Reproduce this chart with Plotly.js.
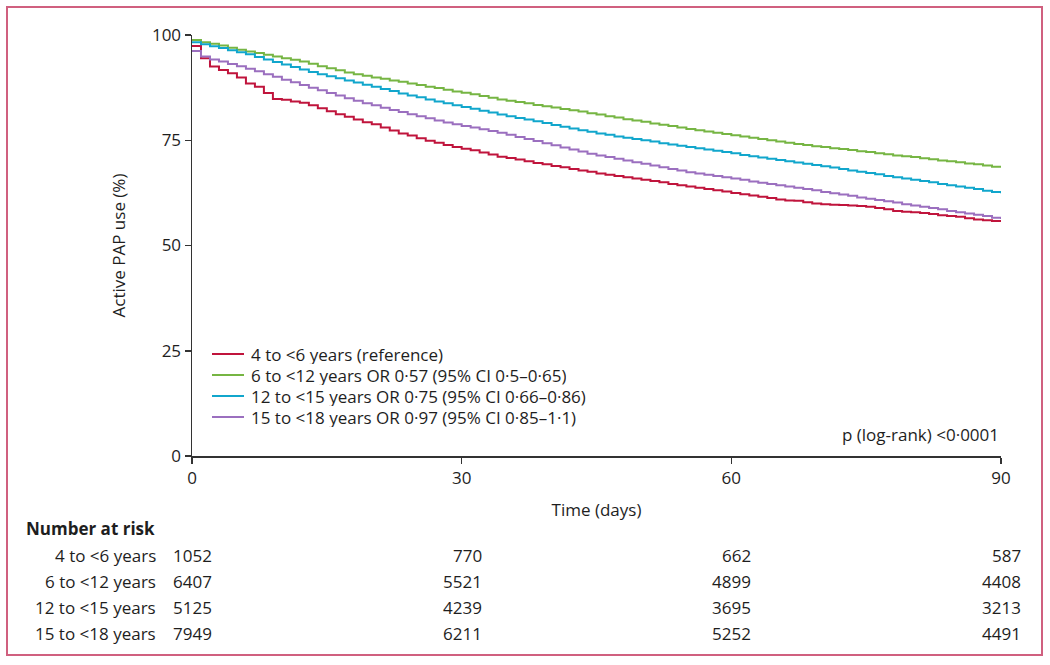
<!DOCTYPE html>
<html>
<head>
<meta charset="utf-8">
<script src="https://cdn.plot.ly/plotly-3.0.1.min.js"></script>
<style>html,body{margin:0;padding:0;background:#fff;}#chart{width:1050px;height:665px;}</style>
</head>
<body>
<div id="chart"></div>
<script>
var days = [];
for (var i = 0; i <= 90; i++) days.push(i);

var seriesNames = [
  "4 to <6 years (reference)",
  "6 to <12 years OR 0·57 (95% CI 0·5–0·65)",
  "12 to <15 years OR 0·75 (95% CI 0·66–0·86)",
  "15 to <18 years OR 0·97 (95% CI 0·85–1·1)"
];
var seriesColors = ["#c0143c", "#76b543", "#11a6cc", "#9b6fbf"];

var red = [97.4,94.5,92.5,91.7,90.9,89.9,88.5,87.7,86.2,84.8,84.6,84.2,83.9,83.3,82.6,81.9,81.2,80.6,79.9,79.3,78.8,78.0,77.3,76.6,76.1,75.5,74.9,74.4,73.9,73.4,73.0,72.6,72.1,71.6,71.1,70.8,70.4,70.0,69.6,69.3,68.9,68.6,68.2,67.8,67.5,67.1,66.8,66.5,66.2,65.9,65.6,65.3,65.0,64.6,64.3,64.0,63.7,63.4,63.1,62.8,62.5,62.2,61.9,61.6,61.3,60.9,60.7,60.6,60.3,60.0,59.8,59.7,59.6,59.5,59.4,59.2,58.9,58.6,58.2,58.0,57.9,57.7,57.5,57.2,57.0,56.8,56.5,56.2,56.0,55.8,55.6];
var green = [98.8,98.3,97.9,97.5,97.0,96.5,96.1,95.7,95.3,94.9,94.5,94.1,93.7,93.2,92.6,92.1,91.6,91.1,90.7,90.3,89.9,89.6,89.2,88.9,88.5,88.1,87.7,87.4,87.0,86.6,86.3,85.9,85.5,85.1,84.7,84.4,84.1,83.8,83.4,83.1,82.8,82.4,82.1,81.8,81.4,81.1,80.7,80.4,80.0,79.7,79.4,79.0,78.7,78.4,78.0,77.7,77.4,77.1,76.8,76.5,76.2,75.9,75.6,75.3,75.0,74.7,74.4,74.1,73.9,73.6,73.4,73.1,72.9,72.7,72.4,72.2,71.9,71.7,71.4,71.2,71.0,70.7,70.5,70.2,70.0,69.8,69.5,69.3,69.0,68.7,68.5];
var blue = [98.3,97.8,97.3,96.9,96.4,95.9,95.4,94.8,94.2,93.6,93.0,92.4,91.8,91.2,90.7,90.2,89.7,89.2,88.7,88.2,87.7,87.2,86.7,86.1,85.6,85.2,84.7,84.2,83.8,83.3,82.9,82.5,82.0,81.6,81.1,80.7,80.3,79.9,79.5,79.1,78.6,78.2,77.8,77.4,77.0,76.6,76.3,75.9,75.6,75.3,75.0,74.7,74.3,74.0,73.7,73.4,73.1,72.8,72.5,72.2,71.9,71.5,71.2,70.9,70.6,70.3,70.0,69.7,69.4,69.1,68.8,68.5,68.2,67.8,67.5,67.2,66.9,66.5,66.2,65.9,65.6,65.3,65.0,64.6,64.3,64.0,63.7,63.4,63.0,62.7,62.4];
var purple = [96.2,94.9,94.2,93.7,93.1,92.6,92.0,91.4,90.7,90.1,89.4,88.8,88.1,87.5,86.9,86.2,85.6,85.0,84.4,83.8,83.3,82.7,82.2,81.7,81.2,80.7,80.2,79.7,79.2,78.8,78.4,78.0,77.6,77.2,76.8,76.3,75.8,75.3,74.8,74.3,73.8,73.3,72.8,72.3,71.8,71.4,71.0,70.6,70.2,69.8,69.4,69.0,68.6,68.2,67.8,67.4,67.1,66.8,66.5,66.2,65.9,65.6,65.2,64.9,64.6,64.3,64.0,63.7,63.4,63.1,62.7,62.4,62.1,61.8,61.4,61.1,60.8,60.5,60.2,59.8,59.5,59.2,58.9,58.6,58.2,57.9,57.6,57.3,57.0,56.6,56.3];

var riskTimes = [0, 30, 60, 90];
var riskLabels = ["4 to <6 years", "6 to <12 years", "12 to <15 years", "15 to <18 years"];
var risk4to6 = [1052, 770, 662, 587];
var risk6to12 = [6407, 5521, 4899, 4408];
var risk12to15 = [5125, 4239, 3695, 3213];
var risk15to18 = [7949, 6211, 5252, 4491];

var xTicks = [0, 30, 60, 90];
var yTicks = [0, 25, 50, 75, 100];

var FONT = "'Open Sans', Lato, sans-serif";
var TXT = "#1e1e1e";
var FS = 17;

// pixel helpers for paper coordinates (plot area 192..1001 x, 35..456 y)
function px(x) { return (x - 192) / 809; }
function py(y) { return (456 - y) / 421; }

var allSeries = [red, green, blue, purple];
var traces = allSeries.map(function (ys, k) {
  return {
    x: days, y: ys, type: "scatter", mode: "lines",
    line: {shape: "hv", color: seriesColors[k], width: 2},
    name: seriesNames[k], hoverinfo: "skip", showlegend: false
  };
});

var annotations = [];
var shapes = [];

// legend (drawn as annotation text + line samples)
var legendY = [354, 375, 396, 417];
seriesNames.forEach(function (nm, k) {
  shapes.push({
    type: "line", xref: "paper", yref: "paper",
    x0: px(212), x1: px(244), y0: py(legendY[k]), y1: py(legendY[k]),
    line: {color: seriesColors[k], width: 2}
  });
  annotations.push({
    xref: "paper", yref: "paper", x: px(250), y: py(legendY[k]), xanchor: "left", yanchor: "middle",
    text: nm.replace(/</g, "&lt;"), showarrow: false, height: 20, borderpad: 0, valign: "middle",
    font: {family: FONT, size: FS, color: TXT}
  });
});

annotations.push({
  xref: "x", yref: "paper", x: 90, y: py(434), xanchor: "right", yanchor: "middle",
  text: "p (log-rank) &lt;0·0001", showarrow: false, font: {family: FONT, size: FS, color: TXT}
});
annotations.push({
  xref: "paper", yref: "paper", x: px(24), y: py(528), xanchor: "left", yanchor: "middle",
  text: "<b>Number at risk</b>", showarrow: false, font: {family: FONT, size: FS, color: TXT}
});
var riskRows = [risk4to6, risk6to12, risk12to15, risk15to18];
var rowY = [555, 581, 607, 633];
riskRows.forEach(function (row, r) {
  annotations.push({
    xref: "paper", yref: "paper", x: px(158), y: py(rowY[r]), xanchor: "right", yanchor: "middle",
    text: riskLabels[r].replace(/</g, "&lt;"), showarrow: false, font: {family: FONT, size: FS, color: TXT}
  });
  row.forEach(function (v, c) {
    annotations.push({
      xref: "x", yref: "paper", x: riskTimes[c], y: py(rowY[r]), xanchor: "right", yanchor: "middle",
      xshift: 22, text: String(v), showarrow: false, font: {family: FONT, size: FS, color: TXT}
    });
  });
});

shapes.push({
  type: "rect", xref: "paper", yref: "paper",
  x0: px(7), x1: px(1042), y0: py(655), y1: py(7),
  line: {color: "#d0607f", width: 2}, fillcolor: "rgba(0,0,0,0)"
});

var layout = {
  width: 1050, height: 665,
  margin: {l: 192, r: 49, t: 35, b: 209},
  paper_bgcolor: "#fff", plot_bgcolor: "#fff",
  showlegend: false,
  xaxis: {
    range: [0, 90], tickvals: xTicks, ticktext: xTicks.map(String),
    showgrid: false, zeroline: false, showline: true, linecolor: "#333", linewidth: 1.5,
    ticks: "outside", ticklen: 6, tickwidth: 1.5, tickcolor: "#333",
    tickfont: {family: FONT, size: FS, color: TXT},
    title: {text: "Time (days)", font: {family: FONT, size: FS, color: TXT}, standoff: 16},
    fixedrange: true
  },
  yaxis: {
    range: [0, 100], tickvals: yTicks, ticktext: yTicks.map(String),
    showgrid: false, zeroline: false, showline: true, linecolor: "#333", linewidth: 1.5,
    ticks: "outside", ticklen: 6, tickwidth: 1.5, tickcolor: "#333",
    tickfont: {family: FONT, size: FS, color: TXT},
    title: {text: "Active PAP use (%)", font: {family: FONT, size: FS, color: TXT}, standoff: 22},
    fixedrange: true
  },
  annotations: annotations,
  shapes: shapes
};

Plotly.newPlot("chart", traces, layout, {displayModeBar: false, staticPlot: true});
</script>
</body>
</html>
